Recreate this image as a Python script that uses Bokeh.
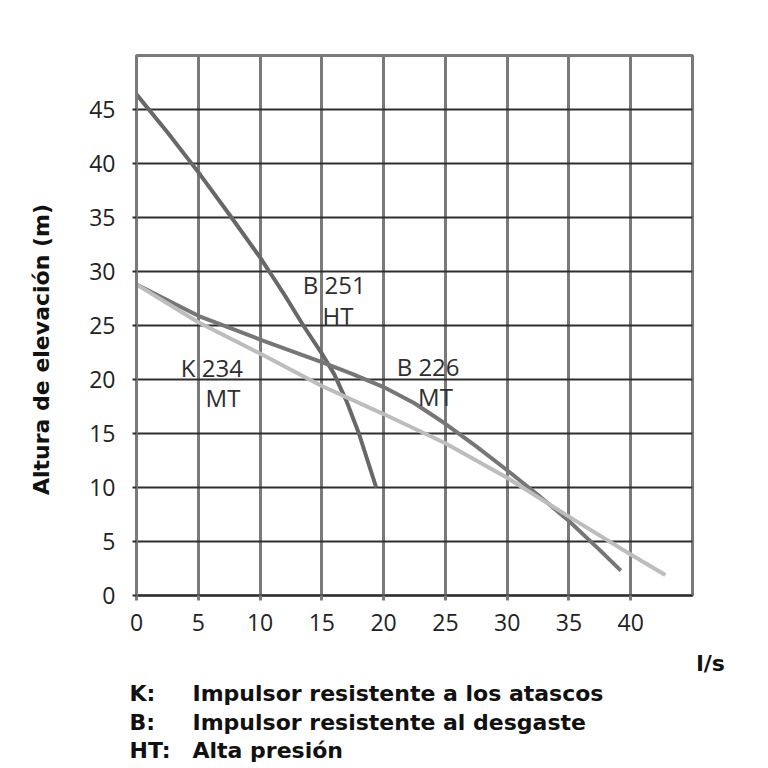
import math
from bokeh.plotting import figure
from bokeh.layouts import column, row
from bokeh.models import Label, Range1d, FixedTicker
from bokeh.embed import file_html
from bokeh.resources import INLINE

# Data
b251_x = [0, 2.5, 5, 7.5, 10, 12, 13.5, 15, 16, 17, 18, 19.4]
b251_y = [46.4, 42.9, 39.2, 35.3, 31.3, 27.8, 25.0, 22.4, 20.5, 18.0, 15.0, 10.0]

b226_x = [0, 5, 10, 15, 17.5, 20, 22.5, 25, 27.5, 30, 32.5, 35, 37.5, 39.2]
b226_y = [28.8, 25.9, 23.7, 21.6, 20.5, 19.3, 17.8, 15.9, 13.8, 11.6, 9.3, 6.9, 4.2, 2.3]

k234_x = [0, 5, 10, 15, 20, 25, 30, 35, 40, 42.8]
k234_y = [28.8, 25.3, 22.4, 19.4, 16.8, 14.1, 10.9, 7.3, 3.8, 1.9]

x_ticks = [0, 5, 10, 15, 20, 25, 30, 35, 40]
y_ticks = [0, 5, 10, 15, 20, 25, 30, 35, 40, 45]

curve_labels = [
    ("B 251", 16.0, 28.8), ("HT", 16.3, 25.9),
    ("K 234", 6.1, 21.1), ("MT", 7.0, 18.3),
    ("B 226", 23.6, 21.2), ("MT", 24.2, 18.4),
]

footer = [
    ("K:", "Impulsor resistente a los atascos"),
    ("B:", "Impulsor resistente al desgaste"),
    ("HT:", "Alta presión"),
]

DARK = "#2e2e2e"
GRIDV = "#7a7a7a"
BLACK = "#111111"

LEFT_W = 76      # width of the y-title strip
TOP_H = 652      # height of the chart row
FOOT_H = 114     # height of the footer strip
FRAME_TOP, FRAME_BOTTOM = 55, 595


def blank(width, height):
    f = figure(width=width, height=height, output_backend="svg", toolbar_location=None,
               x_axis_type=None, y_axis_type=None,
               x_range=Range1d(0, 1), y_range=Range1d(0, 1), min_border=0)
    f.outline_line_color = None
    return f


# ---- main chart ----
p = figure(width=624, height=TOP_H, output_backend="svg", toolbar_location=None,
           x_range=Range1d(0, 45), y_range=Range1d(0, 50))
p.min_border_left = 136 - LEFT_W
p.min_border_right = 624 - (692 - LEFT_W)
p.min_border_top = FRAME_TOP
p.min_border_bottom = TOP_H - FRAME_BOTTOM

p.outline_line_color = GRIDV
p.outline_line_width = 3

p.xgrid.ticker = FixedTicker(ticks=list(range(0, 46, 5)))
p.xgrid.grid_line_color = GRIDV
p.xgrid.grid_line_width = 3
p.ygrid.ticker = FixedTicker(ticks=list(range(0, 51, 5)))
p.ygrid.grid_line_color = DARK
p.ygrid.grid_line_width = 2

p.xaxis.ticker = FixedTicker(ticks=x_ticks)
p.yaxis.ticker = FixedTicker(ticks=y_ticks)
p.xaxis.minor_tick_line_color = None
p.yaxis.minor_tick_line_color = None
p.xaxis.axis_line_color = DARK
p.xaxis.axis_line_width = 2
p.yaxis.axis_line_color = GRIDV
p.yaxis.axis_line_width = 3
p.xaxis.major_tick_line_color = GRIDV
p.xaxis.major_tick_line_width = 3
p.xaxis.major_tick_out = 5
p.xaxis.major_tick_in = 0
p.yaxis.major_tick_line_color = DARK
p.yaxis.major_tick_line_width = 2
p.yaxis.major_tick_out = 4
p.yaxis.major_tick_in = 0
for ax in (p.xaxis, p.yaxis):
    ax.major_label_text_font = "Open Sans"
    ax.major_label_text_font_size = "23px"
    ax.major_label_text_color = "#222222"
p.xaxis.major_label_standoff = 13
p.yaxis.major_label_standoff = 17

p.line(b251_x, b251_y, line_color="#686868", line_width=4)
p.line(b226_x, b226_y, line_color="#767676", line_width=4)
p.line(k234_x, k234_y, line_color="#bdbdbd", line_width=4)

for txt, x, y in curve_labels:
    p.add_layout(Label(x=x, y=y, text=txt, text_font="Open Sans", text_font_size="24px",
                       text_color=DARK, text_align="center", text_baseline="middle"))

# ---- y title strip (its frame is aligned with the chart frame) ----
yl = blank(LEFT_W, TOP_H)
yl.add_layout(Label(x=41, y=FRAME_BOTTOM - 349, x_units="screen", y_units="screen",
                    text="Altura de elevación (m)", angle=math.pi / 2,
                    text_font="DejaVu Sans", text_font_style="bold", text_font_size="22px",
                    text_color=BLACK, text_align="center", text_baseline="middle"))

# ---- footer strip ----
ft = blank(752, FOOT_H)
ft.add_layout(Label(x=710, y=FOOT_H - (663 - TOP_H), x_units="screen", y_units="screen",
                    text="l/s", text_font="DejaVu Sans", text_font_style="bold",
                    text_font_size="22px", text_color=BLACK, text_align="center",
                    text_baseline="alphabetic"))
baselines = [693, 722, 750]
for (k, desc), yb in zip(footer, baselines):
    for txt, x in ((k, 129), (desc, 192)):
        ft.add_layout(Label(x=x, y=FOOT_H - (yb - TOP_H), x_units="screen", y_units="screen",
                            text=txt, text_font="DejaVu Sans", text_font_style="bold",
                            text_font_size="22px", text_color=BLACK, text_align="left",
                            text_baseline="alphabetic"))

layout = column(row(yl, p, spacing=0), ft, spacing=0)
open("out.html", "w").write(file_html(layout, INLINE))
